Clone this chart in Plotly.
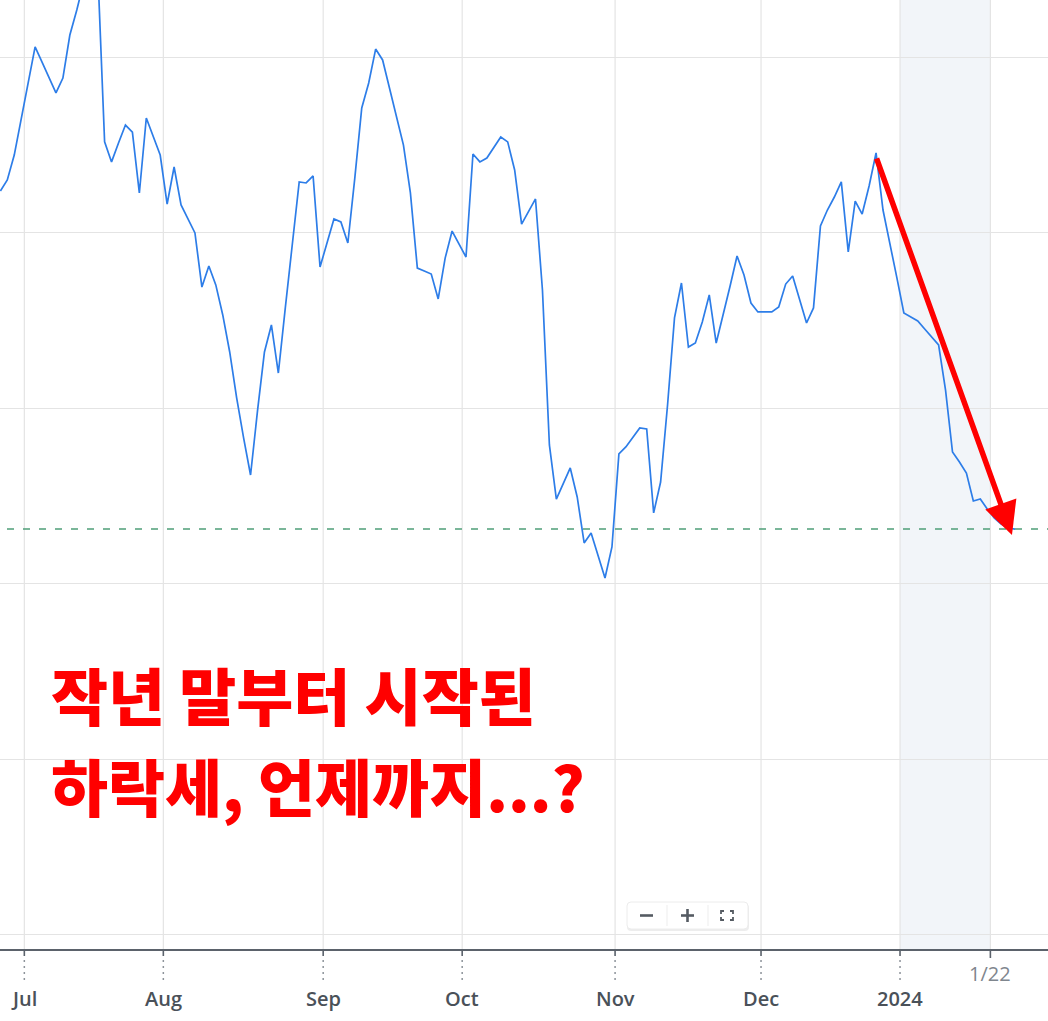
import plotly.graph_objects as go
import pandas as pd

# ---------------- data ----------------
holidays = ["2023-07-04", "2023-09-04", "2023-11-23", "2023-12-25", "2024-01-01", "2024-01-15"]
dates = pd.bdate_range("2023-06-28", "2024-01-26", freq="C", holidays=holidays).strftime("%Y-%m-%d").tolist()

prices = [
    182.39, 183.02, 184.44, 186.44, 188.60, 190.60, 189.74, 188.89, 187.98, 188.83,
    191.28, 192.71, 194.30, 195.56, 195.16, 185.19, 184.05, 185.13, 186.15, 185.75,
    182.28, 186.55, 185.47, 184.44, 181.65, 183.76, 181.60, 180.80, 180.00, 176.92,
    178.12, 177.04, 175.33, 173.22, 170.60, 168.32, 166.21, 169.86, 173.22, 174.76,
    172.02, 175.73, 179.43, 182.91, 182.85, 183.25, 178.06, 179.43, 180.80, 180.63,
    179.43, 183.13, 187.12, 188.55, 190.48, 189.86, 188.21, 186.61, 185.01, 182.28,
    178.00, 177.83, 177.66, 176.24, 178.57, 180.11, 179.37, 178.63, 184.50, 184.05,
    184.27, 184.84, 185.47, 185.19, 183.59, 180.51, 181.20, 181.94, 176.75, 167.92,
    164.84, 165.70, 166.61, 164.96, 162.34, 162.91, 161.60, 160.34, 162.11, 167.41,
    167.81, 168.32, 168.89, 168.83, 164.05, 165.81, 170.20, 175.16, 177.15, 173.50,
    173.73, 174.93, 176.47, 173.73, 175.27, 176.98, 178.69, 177.61, 176.01, 175.50,
    175.50, 175.50, 175.78, 177.09, 177.55, 176.24, 174.87, 175.73, 180.40, 181.31,
    182.05, 182.91, 178.92, 181.82, 181.08, 182.68, 184.56, 181.31, 179.43, 177.44,
    175.44, 175.21, 174.99, 174.53, 174.07, 173.62, 171.05, 167.52, 166.95, 166.32,
    164.73, 164.84, 164.27, 163.76, 163.42, 163.19, 163.13,
]
dates = dates[:len(prices)]

ref_level = 163.13          # dashed reference line
y_grid = [140, 150, 160, 170, 180, 190]

month_tick_dates = ["2023-07-03", "2023-08-01", "2023-09-01", "2023-10-02",
                    "2023-11-01", "2023-12-01", "2024-01-02"]
month_tick_labels = ["Jul", "Aug", "Sep", "Oct", "Nov", "Dec", "2024"]
marker_tick_date = "2024-01-22"
marker_tick_label = "1/22"
shade_from, shade_to = "2024-01-02", "2024-01-22"

arrow_tail = ("2023-12-27", 184.33)
arrow_head = ("2024-01-25", 162.79)

caption_lines = ["작년 말부터 시작된", "하락세, 언제까지...?"]

# ---------------- geometry helpers ----------------
W, H = 1048, 1021
MB = 72
PH = H - MB
TICK_OFFSET = 0.45
pos = {d: i for i, d in enumerate(dates)}


def tx(d):
    return pos[d] + TICK_OFFSET


def py(p):  # pixel row -> paper y
    return 1 - p / PH


def px(p):  # pixel column -> paper x
    return p / W


fig = go.Figure()
fig.add_trace(go.Scatter(
    x=dates, y=prices, mode="lines",
    line=dict(color="#2d7de8", width=1.7),
    hoverinfo="skip", showlegend=False,
))

shapes = []
annotations = []

# shaded period
shapes.append(dict(type="rect", xref="x", yref="paper", x0=tx(shade_from), x1=tx(shade_to),
                   y0=0, y1=1, fillcolor="#f2f5f9", line=dict(width=0), layer="below"))

# vertical grid lines + ticks + labels
all_ticks = month_tick_dates + [marker_tick_date]
for d in all_ticks:
    shapes.append(dict(type="line", xref="x", yref="paper", x0=tx(d), x1=tx(d), y0=0, y1=1,
                       line=dict(color="#e4e4e4", width=1.2), layer="below"))
for d, lab in zip(month_tick_dates, month_tick_labels):
    shapes.append(dict(type="line", xref="x", yref="paper", x0=tx(d), x1=tx(d),
                       y0=py(PH), y1=py(PH + 7), line=dict(color="#5b626b", width=1.6)))
    shapes.append(dict(type="line", xref="x", yref="paper", x0=tx(d), x1=tx(d),
                       y0=py(PH + 11), y1=py(PH + 31), line=dict(color="#8d939a", width=1.5, dash="2px,4px")))
    annotations.append(dict(x=tx(d), y=py(998), xref="x", yref="paper", text=lab, showarrow=False,
                            xanchor="center", yanchor="middle",
                            font=dict(family="Open Sans", size=20, color="#4a5159", weight=600)))
shapes.append(dict(type="line", xref="x", yref="paper", x0=tx(marker_tick_date), x1=tx(marker_tick_date),
                   y0=py(PH), y1=py(PH + 9), line=dict(color="#5b626b", width=1.6)))
annotations.append(dict(x=tx(marker_tick_date), y=py(974), xref="x", yref="paper", text=marker_tick_label,
                        showarrow=False, xanchor="center", yanchor="middle",
                        font=dict(family="Open Sans", size=20, color="#7f868e")))

# dashed reference line
shapes.append(dict(type="line", xref="paper", yref="y", x0=px(7), x1=1, y0=ref_level, y1=ref_level,
                   line=dict(color="#4f9e78", width=1.6, dash="7px,9px"), layer="between"))

# red arrow
annotations.append(dict(x=pos[arrow_head[0]] + 0.56, y=arrow_head[1],
                        ax=pos[arrow_tail[0]], ay=arrow_tail[1],
                        xref="x", yref="y", axref="x", ayref="y", text="",
                        showarrow=True, arrowhead=2, arrowsize=1.2, arrowwidth=5.5,
                        arrowcolor="#ff0000", standoff=0, startstandoff=0))

# big red caption
for line, cy in zip(caption_lines, [694, 785]):
    annotations.append(dict(x=px(49), y=py(cy), xref="paper", yref="paper", text=line,
                            showarrow=False, xanchor="left", yanchor="middle",
                            font=dict(family="Noto Sans CJK KR", size=62, color="#ff0000", weight=900)))

# zoom control widget
def rrect(x0, y0, x1, y1, r):
    return (f"M{px(x0 + r)},{py(y0)} L{px(x1 - r)},{py(y0)} Q{px(x1)},{py(y0)} {px(x1)},{py(y0 + r)} "
            f"L{px(x1)},{py(y1 - r)} Q{px(x1)},{py(y1)} {px(x1 - r)},{py(y1)} "
            f"L{px(x0 + r)},{py(y1)} Q{px(x0)},{py(y1)} {px(x0)},{py(y1 - r)} "
            f"L{px(x0)},{py(y0 + r)} Q{px(x0)},{py(y0)} {px(x0 + r)},{py(y0)} Z")

shapes.append(dict(type="path", xref="paper", yref="paper", path=rrect(627, 904, 749, 931, 4),
                   fillcolor="rgba(0,0,0,0.07)", line=dict(width=0)))
shapes.append(dict(type="path", xref="paper", yref="paper", path=rrect(627, 902, 748, 929, 4),
                   fillcolor="#ffffff", line=dict(color="#ececec", width=1)))
for xd in (667, 708):
    shapes.append(dict(type="line", xref="paper", yref="paper", x0=px(xd), x1=px(xd),
                       y0=py(905), y1=py(926), line=dict(color="#ededed", width=1)))
# minus and plus
shapes.append(dict(type="line", xref="paper", yref="paper", x0=px(640), x1=px(653), y0=py(915.5), y1=py(915.5),
                   line=dict(color="#555b62", width=2.6)))
shapes.append(dict(type="line", xref="paper", yref="paper", x0=px(681), x1=px(694), y0=py(915.5), y1=py(915.5),
                   line=dict(color="#555b62", width=2.6)))
shapes.append(dict(type="line", xref="paper", yref="paper", x0=px(687.5), x1=px(687.5), y0=py(909), y1=py(922),
                   line=dict(color="#555b62", width=2.6)))
# fullscreen corners
for (cx, cy, dx, dy) in [(721, 911, 1, 1), (733, 911, -1, 1), (721, 920, 1, -1), (733, 920, -1, -1)]:
    shapes.append(dict(type="path", xref="paper", yref="paper",
                       path=f"M{px(cx)},{py(cy + 3 * dy)} L{px(cx)},{py(cy)} L{px(cx + 3 * dx)},{py(cy)}",
                       line=dict(color="#555b62", width=1.8)))

fig.update_layout(
    width=W, height=H,
    margin=dict(l=0, r=0, t=0, b=MB, pad=0),
    paper_bgcolor="#ffffff", plot_bgcolor="#ffffff",
    showlegend=False,
    xaxis=dict(type="category", range=[-0.0504, 150.741], showgrid=False, zeroline=False,
               showticklabels=False, ticks="", showline=True, linecolor="#5b626b", linewidth=1.6,
               fixedrange=True),
    yaxis=dict(range=[139.20, 193.276], tickvals=y_grid, showgrid=True, gridcolor="#e4e4e4", gridwidth=1.2,
               zeroline=False, showticklabels=False, ticks="", showline=False, fixedrange=True),
    shapes=shapes,
    annotations=annotations,
)

fig.write_html("out.html", config={"displayModeBar": False},
               post_script="document.body.style.margin='0';document.body.style.overflow='hidden';")
